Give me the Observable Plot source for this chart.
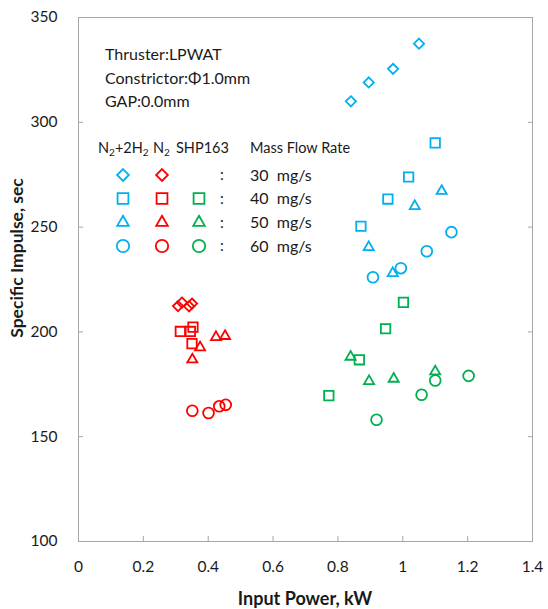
<!DOCTYPE html>
<html><head><meta charset="utf-8">
<script src="https://cdn.jsdelivr.net/npm/d3@7"></script>
<script src="https://cdn.jsdelivr.net/npm/@observablehq/plot@0.6"></script>
<style>
body{margin:0;background:#fff}
#chart{position:relative;width:548px;height:609px}
</style>
</head><body><div id="chart"></div>
<script>
// ---- data: [input power kW, specific impulse sec] ----
const xTicks = [0, 0.2, 0.4, 0.6, 0.8, 1, 1.2, 1.4];
const yTicks = [100, 150, 200, 250, 300, 350];

const n2h2_30 = [[0.84, 310], [0.895, 319], [0.97, 325.5], [1.05, 337.5]];
const n2h2_40 = [[0.871, 250.4], [0.954, 263.4], [1.018, 273.9], [1.10, 290.2]];
const n2h2_50 = [[0.895, 240.4], [0.969, 228], [1.037, 260], [1.12, 267.2]];
const n2h2_60 = [[0.908, 226.1], [0.994, 230.4], [1.074, 238.5], [1.15, 247.6]];

const n2_30 = [[0.307, 212.3], [0.319, 214], [0.341, 212.2], [0.35, 213.5]];
const n2_40 = [[0.314, 200.2], [0.345, 200.2], [0.353, 202.3], [0.35, 194.4]];
const n2_50 = [[0.351, 186.8], [0.375, 192.6], [0.424, 197.5], [0.452, 198]];
const n2_60 = [[0.351, 162.4], [0.401, 161.3], [0.434, 164.5], [0.454, 165.2]];

const shp_40 = [[0.772, 169.6], [0.866, 186.7], [0.947, 201.5], [1.002, 214.1]];
const shp_50 = [[0.839, 188.1], [0.896, 176.5], [0.972, 177.6], [1.10, 181.1]];
const shp_60 = [[0.919, 158.1], [1.058, 170], [1.10, 176.8], [1.203, 179]];

// legend / annotation text; [text, isSubscript] parts
const gasNames = [
  [["N", 0], ["2", 1], ["+2H", 0], ["2", 1]],
  [["N", 0], ["2", 1]],
  [["SHP163", 0]]
];
const flowLabels = ["30  mg/s", "40  mg/s", "50  mg/s", "60  mg/s"];
const infoLines = ["Thruster:LPWAT", "Constrictor:\u03A61.0mm", "GAP:0.0mm"];

const BLUE = "#00B0F0", RED = "#FF0000", GREEN = "#00B050";
const FONT = "Lato, 'Open Sans', sans-serif";
const INK = "#1a1a1a";

const sym = {
  30: {symbol: "diamond2", r: 4.6},
  40: {symbol: "square2", r: 6.0},
  50: {symbol: "triangle2", r: 4.8},
  60: {symbol: "circle", r: 5.4}
};
const series = [
  [n2h2_30, BLUE, 30], [n2h2_40, BLUE, 40], [n2h2_50, BLUE, 50], [n2h2_60, BLUE, 60],
  [n2_30, RED, 30], [n2_40, RED, 40], [n2_50, RED, 50], [n2_60, RED, 60],
  [shp_40, GREEN, 40], [shp_50, GREEN, 50], [shp_60, GREEN, 60]
];

const axisColor = "#a6a6a6";

const plot = Plot.plot({
  width: 548,
  height: 609,
  marginLeft: 78,
  marginRight: 16,
  marginTop: 17,
  marginBottom: 68,
  style: {fontFamily: FONT, fontSize: "15.5px", color: INK, background: "#fff"},
  x: {domain: [0, 1.4]},
  y: {domain: [100, 350]},
  marks: [
    Plot.frame({stroke: axisColor}),
    Plot.axisX(xTicks, {tickSize: -5, tickPadding: 24, stroke: axisColor, fill: INK,
      tickFormat: d => `${+d.toFixed(2)}`, label: null}),
    Plot.axisY(yTicks, {tickSize: -5, tickPadding: 26, stroke: axisColor, fill: INK, label: null}),
    Plot.axisY(yTicks, {anchor: "right", tickSize: -5, stroke: axisColor, tickFormat: () => "", label: null}),
    ...series.map(([data, color, f]) => Plot.dot(data, {
      x: d => d[0], y: d => d[1], symbol: sym[f].symbol, r: sym[f].r,
      stroke: color, strokeWidth: 1.8, fill: "none"
    }))
  ]
});

document.getElementById("chart").appendChild(plot);
const svg = d3.select(plot);

function txt(g, x, y, size, weight = "normal") {
  return g.append("text").attr("x", x).attr("y", y)
    .attr("text-anchor", "start")
    .style("font-family", FONT).style("font-size", size + "px").style("font-weight", weight)
    .attr("fill", INK);
}

// axis titles
txt(svg, 305, 605, 18, "bold").attr("text-anchor", "middle").text("Input Power, kW");
svg.append("text").attr("transform", "translate(23,258) rotate(-90)").attr("text-anchor", "middle")
  .style("font-family", FONT).style("font-size", "17.5px").style("font-weight", "bold")
  .attr("fill", INK).text("Specific Impulse, sec");

// info text
infoLines.forEach((t, i) => txt(svg, 105, 60 + i * 23.5, 16).text(t));

// legend header
const lg = svg.append("g");
const headerX = [98, 153, 176];
gasNames.forEach((parts, gi) => {
  const t = txt(lg, headerX[gi], 153, 14.5);
  let off = 0;
  parts.forEach(([s, sub]) => {
    const want = sub ? 3 : 0;
    const ts = t.append("tspan").attr("dy", want - off).text(s);
    if (sub) ts.style("font-size", "10px");
    off = want;
  });
});
txt(lg, 250, 153, 14.5).text("Mass Flow Rate");

const rowsY = [175, 198.5, 222.5, 246];
const colX = [123, 162, 199];
const colColors = [BLUE, RED, GREEN];
const flows = [30, 40, 50, 60];
const symMap = {diamond2: d3.symbolDiamond2, square2: d3.symbolSquare2, triangle2: d3.symbolTriangle2, circle: d3.symbolCircle};
flows.forEach((f, ri) => {
  colColors.forEach((c, ci) => {
    if (ci === 2 && f === 30) return;
    const s = sym[f];
    lg.append("path").attr("transform", `translate(${colX[ci]},${rowsY[ri]})`)
      .attr("d", d3.symbol(symMap[s.symbol], Math.PI * (s.r * 1.15) ** 2)())
      .attr("fill", "none").attr("stroke", c).attr("stroke-width", 1.8);
  });
  txt(lg, 220, rowsY[ri] + 5, 15).text(":");
  txt(lg, 250, rowsY[ri] + 5.5, 16).style("white-space", "pre").text(flowLabels[ri]);
});
</script>
</body></html>
